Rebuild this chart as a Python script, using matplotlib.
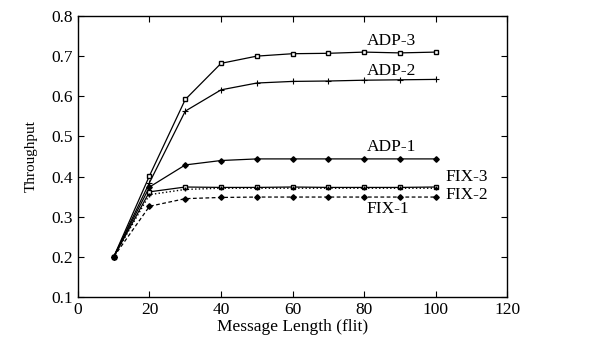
import matplotlib
matplotlib.use("Agg")
import matplotlib.pyplot as plt

msg_len = [10, 20, 30, 40, 50, 60, 70, 80, 90, 100]
adp3 = [0.20, 0.402, 0.592, 0.682, 0.700, 0.706, 0.707, 0.710, 0.708, 0.710]
adp2 = [0.20, 0.385, 0.563, 0.616, 0.633, 0.637, 0.638, 0.640, 0.641, 0.642]
adp1 = [0.20, 0.374, 0.429, 0.440, 0.444, 0.444, 0.444, 0.444, 0.444, 0.444]
fix3 = [0.20, 0.362, 0.374, 0.373, 0.373, 0.374, 0.373, 0.373, 0.373, 0.374]
fix2 = [0.20, 0.355, 0.368, 0.371, 0.371, 0.371, 0.371, 0.371, 0.371, 0.371]
fix1 = [0.20, 0.326, 0.345, 0.348, 0.349, 0.349, 0.349, 0.349, 0.349, 0.349]

xticks = [0, 20, 40, 60, 80, 100, 120]
yticks = [0.1, 0.2, 0.3, 0.4, 0.5, 0.6, 0.7, 0.8]

plt.rcParams['font.family'] = ['Liberation Serif', 'DejaVu Serif']

fig = plt.figure(figsize=(6.04, 3.47), dpi=100)
ax = fig.add_axes([0.129, 0.144, 0.711, 0.810])

k = dict(color='black', linewidth=0.9)
ax.plot(msg_len, adp3, marker='s', markersize=3.5, markerfacecolor='white', markeredgewidth=1.0, **k)
ax.plot(msg_len, adp2, marker='+', markersize=4, markeredgewidth=0.8, **k)
ax.plot(msg_len, adp1, marker='D', markersize=2.8, **k)
ax.plot(msg_len, fix3, marker='s', markersize=3.5, markerfacecolor='white', markeredgewidth=1.0, **k)
ax.plot(msg_len, fix2, linestyle=':', marker='+', markersize=3, color='black', linewidth=1.0)
ax.plot(msg_len, fix1, linestyle='--', dashes=(3, 2), marker='D', markersize=2.8, color='black', linewidth=0.9)

lab = dict(fontsize=12.5, ha='center', va='center')
ax.text(87.5, 0.737, 'ADP-3', **lab)
ax.text(87.5, 0.663, 'ADP-2', **lab)
ax.text(87.5, 0.473, 'ADP-1', **lab)
ax.text(108.7, 0.400, 'FIX-3', **lab)
ax.text(108.7, 0.353, 'FIX-2', **lab)
ax.text(86.6, 0.318, 'FIX-1', **lab)

ax.set_xlim(0, 120)
ax.set_ylim(0.1, 0.8)
ax.set_xticks(xticks)
ax.set_yticks(yticks)
ax.set_xticklabels([str(v) for v in xticks])
ax.set_yticklabels([f'{v:.1f}' for v in yticks])
ax.tick_params(direction='in', top=True, right=True, length=4, labelsize=12.5, width=0.8)
ax.set_xlabel('Message Length (flit)', fontsize=12.5, labelpad=1)
ax.set_ylabel('Throughput', fontsize=11, labelpad=10)
for s in ax.spines.values():
    s.set_linewidth(1.0)

fig.savefig('out.png', dpi=100)
